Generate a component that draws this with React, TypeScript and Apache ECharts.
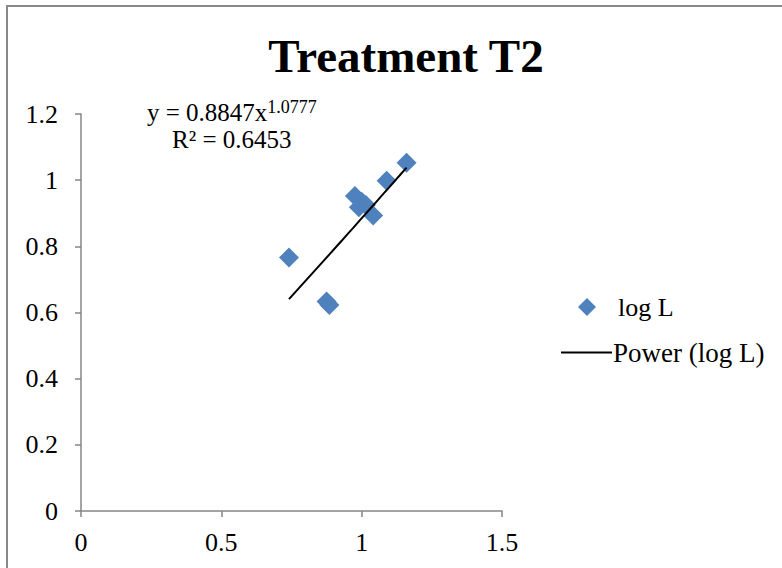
import React, { useEffect, useRef } from "react";
import * as echarts from "echarts";

const xValues = [0.741, 0.875, 0.885, 0.976, 1.0, 0.99, 1.015, 1.041, 1.089, 1.16];
const yValues = [0.766, 0.633, 0.623, 0.952, 0.935, 0.918, 0.925, 0.893, 0.998, 1.053];
const powerA = 0.8847;
const powerB = 1.0777;
const rSquared = 0.6453;
const xTicks = [0, 0.5, 1, 1.5];
const yTicks = [0, 0.2, 0.4, 0.6, 0.8, 1, 1.2];

const FONT = "'Liberation Serif', 'Times New Roman', serif";

export default function App() {
  const ref = useRef<HTMLDivElement>(null);
  useEffect(() => {
    if (!ref.current) return;
    const chart = echarts.init(ref.current, undefined, { renderer: "svg" });
    const pts = xValues.map((x, i) => [x, yValues[i]]);
    const xmin = Math.min(...xValues);
    const xmax = Math.max(...xValues);
    const trend: number[][] = [];
    const n = 20;
    for (let i = 0; i <= n; i++) {
      const x = xmin + ((xmax - xmin) * i) / n;
      trend.push([x, powerA * Math.pow(x, powerB)]);
    }
    chart.setOption({
      animation: false,
      backgroundColor: "#fff",
      title: {
        text: "Treatment T2",
        left: 401,
        textAlign: "center",
        top: 27,
        textStyle: { fontFamily: FONT, fontSize: 47, fontWeight: "bold", color: "#000" },
      },
      grid: { left: 81, top: 114, width: 421, bottom: 57, containLabel: false },
      xAxis: {
        type: "value",
        min: xTicks[0],
        max: xTicks[xTicks.length - 1],
        interval: 0.5,
        axisLine: { lineStyle: { color: "#868686", width: 1.5 } },
        axisTick: { show: true, length: 6, lineStyle: { color: "#868686", width: 1.5 } },
        splitLine: { show: false },
        axisLabel: { fontFamily: FONT, fontSize: 26, color: "#000", margin: 18 },
      },
      yAxis: {
        type: "value",
        min: yTicks[0],
        max: yTicks[yTicks.length - 1],
        interval: 0.2,
        axisLine: { show: true, lineStyle: { color: "#868686", width: 1.5 } },
        axisTick: { show: true, length: 6, lineStyle: { color: "#868686", width: 1.5 } },
        splitLine: { show: false },
        axisLabel: { fontFamily: FONT, fontSize: 26, color: "#000", margin: 23 },
      },
      legend: [
        {
          data: [{ name: "log L", icon: "diamond" }],
          left: 573,
          top: 289,
          itemWidth: 18,
          itemHeight: 18,
          textStyle: { fontFamily: FONT, fontSize: 26, color: "#000", padding: [0, 0, 0, 17] },
        },
        {
          data: [{ name: "Power (log L)", icon: "rect" }],
          left: 556,
          top: 334,
          itemWidth: 51,
          itemHeight: 2,
          textStyle: { fontFamily: FONT, fontSize: 27, color: "#000", padding: [0, 0, 0, -4] },
        },
      ],
      series: [
        {
          name: "log L",
          type: "scatter",
          data: pts,
          symbol: "diamond",
          symbolSize: 20,
          itemStyle: { color: "#4F81BD", opacity: 1 },
          z: 2,
        },
        {
          name: "Power (log L)",
          type: "line",
          data: trend,
          showSymbol: false,
          symbol: "none",
          lineStyle: { color: "#000", width: 2 },
          itemStyle: { color: "#000" },
          z: 3,
        },
      ],
      graphic: [
        {
          type: "rect",
          shape: { x: 7, y: 6, width: 820, height: 620 },
          style: { fill: "none", stroke: "#898989", lineWidth: 2 },
          silent: true,
        },
        {
          type: "text",
          x: 147,
          y: 98,
          style: {
            text: "{a|y = " + powerA + "x}{s|" + powerB + "}",
            rich: {
              a: { fontFamily: FONT, fontSize: 25, fill: "#000" },
              s: { fontFamily: FONT, fontSize: 18, fill: "#000", padding: [0, 0, 11, 0] },
            },
          },
        },
        {
          type: "text",
          x: 172,
          y: 127,
          style: { text: "R² = " + rSquared, fontFamily: FONT, fontSize: 25, fill: "#000" },
        },
      ],
    });
    return () => chart.dispose();
  }, []);
  return (
    <div
      ref={ref}
      style={{ position: "fixed", left: 0, top: 0, width: 782, height: 568 }}
    />
  );
}
